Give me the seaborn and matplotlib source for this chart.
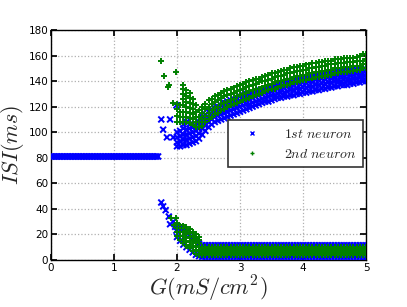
import numpy as np
import pandas as pd
import matplotlib
matplotlib.use("Agg")
import matplotlib.pyplot as plt
from matplotlib.lines import Line2D
import seaborn as sns

## data
# flat part, neuron 1 only (G sweep 0 .. 1.7)
g_flat = np.round(np.arange(0.0, 1.71, 0.025), 3)
isi_flat_value = 81.0

# sparse points right after the bifurcation
n1_sparse_g = [1.75, 1.78, 1.84, 1.89, 1.94, 1.99, 1.75, 1.78, 1.82, 1.87, 1.89, 1.94, 1.97, 1.99]
n1_sparse_isi = [110, 102, 96, 110, 96, 121, 45, 42, 39, 34, 28, 30, 26, 23]
n2_sparse_g = [1.75, 1.79, 1.85, 1.88, 1.94, 1.99, 2.09, 1.90, 1.99, 1.95]
n2_sparse_isi = [156, 144, 135, 137, 123, 147, 137, 33, 33, 27]

# transition region, several ISI values per G
g_trans = [2.00, 2.05, 2.10, 2.15, 2.20, 2.25, 2.30, 2.35]
n1_trans_upper = [[89, 92, 96, 100], [89, 93, 97, 101], [90, 94, 98, 103, 106],
                  [90, 94, 98, 102, 108], [91, 95, 99, 103, 106], [92, 96, 100, 104],
                  [93, 97, 101, 105], [95, 99, 103, 108]]
n2_trans_upper = [[108, 113, 118, 122], [108, 112, 116, 121],
                  [108, 112, 116, 121, 126, 130, 134], [108, 112, 116, 120, 124, 128, 133],
                  [107, 111, 115, 119, 123, 127, 131], [106, 110, 114, 118, 122, 126],
                  [104, 108, 112, 116, 121], [104, 108, 112, 117]]
n1_trans_lower = [[18, 27], [15, 25], [12, 24], [10, 22],
                  [8, 20], [6, 18], [4, 16], [3, 13]]
n2_trans_lower = [[19, 22, 25, 29], [16, 19, 22, 25, 27], [13, 16, 19, 22, 25, 27],
                  [11, 14, 17, 20, 23, 26], [9, 12, 15, 18, 21, 24], [7, 10, 13, 16, 19, 22],
                  [5, 8, 11, 14, 17, 20], [4, 7, 10, 13, 16, 18]]

# regular regime, G 2.40 .. 5.00
g_band = [2.40, 2.45, 2.50, 2.55, 2.60, 2.65, 2.70, 2.75, 2.80, 2.85, 2.90, 2.95,
          3.00, 3.05, 3.10, 3.15, 3.20, 3.25, 3.30, 3.35, 3.40, 3.45, 3.50, 3.55,
          3.60, 3.65, 3.70, 3.75, 3.80, 3.85, 3.90, 3.95, 4.00, 4.05, 4.10, 4.15,
          4.20, 4.25, 4.30, 4.35, 4.40, 4.45, 4.50, 4.55, 4.60, 4.65, 4.70, 4.75,
          4.80, 4.85, 4.90, 4.95, 5.00]
n1_band_upper = [
    [98, 103, 108, 112], [101, 105, 110, 114], [104, 108, 112, 116], [106, 110, 114, 118],
    [108, 112, 115, 119], [109, 113, 117, 120], [110, 114, 118, 121], [111, 115, 119, 123],
    [112, 116, 120, 124], [113, 117, 121, 125], [114, 118, 122, 126], [115, 119, 123, 127],
    [116, 120, 124, 128], [117, 121, 125, 129], [118, 122, 126, 130], [119, 122, 126, 130],
    [120, 123, 127, 131], [121, 124, 128, 132], [122, 125, 129, 133], [123, 126, 130, 133],
    [124, 127, 131, 134], [124, 128, 131, 135], [125, 129, 132, 135], [126, 129, 133, 136],
    [127, 130, 134, 137], [127, 131, 134, 138], [128, 131, 135, 138], [128, 132, 136, 139],
    [129, 133, 136, 140], [129, 133, 137, 141], [130, 134, 138, 142], [130, 134, 138, 142],
    [131, 135, 139, 143], [131, 135, 139, 143], [132, 136, 140, 143], [132, 136, 140, 144],
    [133, 137, 141, 144], [133, 137, 141, 145], [134, 138, 142, 145], [134, 138, 142, 146],
    [135, 139, 143, 146], [135, 139, 143, 146], [136, 140, 143, 147], [136, 140, 144, 147],
    [137, 140, 144, 147], [137, 141, 144, 148], [137, 141, 145, 148], [138, 141, 145, 148],
    [138, 142, 145, 148], [139, 142, 146, 149], [139, 143, 146, 149], [140, 143, 146, 149],
    [140, 143, 146, 149]]
n2_band_upper = [
    [105, 110, 115, 120], [108, 113, 118, 122], [110, 115, 120, 125], [112, 117, 122, 126],
    [114, 119, 124, 128], [115, 120, 125, 129], [117, 122, 127, 131], [118, 123, 128, 132],
    [120, 124, 129, 133], [121, 125, 130, 134], [122, 126, 131, 135], [123, 128, 132, 136],
    [124, 129, 133, 137], [125, 130, 134, 138], [126, 131, 135, 139], [127, 132, 136, 140],
    [128, 133, 137, 141], [129, 134, 138, 142], [130, 134, 139, 142], [131, 135, 140, 143],
    [132, 136, 140, 144], [133, 137, 141, 145], [134, 138, 142, 146], [134, 139, 143, 146],
    [135, 140, 144, 147], [136, 140, 144, 148], [137, 141, 145, 149], [137, 142, 146, 149],
    [138, 142, 146, 150], [139, 143, 147, 151], [139, 144, 148, 151], [140, 144, 148, 152],
    [141, 145, 149, 152], [141, 145, 149, 153], [142, 146, 150, 153], [142, 146, 150, 154],
    [143, 147, 151, 154], [143, 147, 151, 155], [144, 148, 152, 155], [144, 148, 152, 156],
    [145, 149, 153, 156], [145, 149, 153, 156], [146, 150, 153, 157], [146, 150, 154, 157],
    [147, 150, 154, 157], [147, 151, 154, 158], [147, 151, 155, 158], [148, 151, 155, 158],
    [148, 152, 155, 158], [149, 152, 156, 159], [149, 152, 156, 160], [150, 153, 156, 161],
    [150, 153, 157, 161]]
# the fast spikes stay flat over the whole regular regime (blue shows only at the edges)
n1_band_lower = [2.5, 11.5]
n2_band_lower = [4, 5.5, 7, 8.5, 10]

labels = [r"$1st\ neuron$", r"$2nd\ neuron$"]
colors = ["#0000ff", "#008000"]


def to_rows(gs, cols, name):
    rows = []
    for g, vals in zip(gs, cols):
        for v in vals:
            rows.append((g, v, name))
    return rows


rows = []
rows += [(g, isi_flat_value, labels[0]) for g in g_flat]
rows += list(zip(n1_sparse_g, n1_sparse_isi, [labels[0]] * len(n1_sparse_g)))
rows += to_rows(g_trans, n1_trans_upper, labels[0])
rows += to_rows(g_trans, n1_trans_lower, labels[0])
rows += to_rows(g_band, n1_band_upper, labels[0])
rows += to_rows(g_band, [n1_band_lower] * len(g_band), labels[0])
rows += list(zip(n2_sparse_g, n2_sparse_isi, [labels[1]] * len(n2_sparse_g)))
rows += to_rows(g_trans, n2_trans_upper, labels[1])
rows += to_rows(g_trans, n2_trans_lower, labels[1])
rows += to_rows(g_band, n2_band_upper, labels[1])
rows += to_rows(g_band, [n2_band_lower] * len(g_band), labels[1])
df = pd.DataFrame(rows, columns=["G", "ISI", "neuron"])

## plotting
sns.set_theme(style="whitegrid", rc={
    "axes.edgecolor": "black", "axes.linewidth": 1.0,
    "grid.color": "#b0b0b0", "grid.linestyle": ":", "grid.linewidth": 0.9,
    "xtick.direction": "in", "ytick.direction": "in",
    "xtick.top": True, "ytick.right": True,
    "xtick.bottom": True, "ytick.left": True,
    "xtick.major.size": 4, "ytick.major.size": 4,
    "xtick.color": "black", "ytick.color": "black",
    "mathtext.fontset": "cm",
})
plt.rcParams["font.family"] = ["DejaVu Sans"]

fig = plt.figure(figsize=(4.07, 3.07), dpi=100)
ax = fig.add_axes([0.1253, 0.1531, 0.7740, 0.7492])

sns.scatterplot(data=df, x="G", y="ISI", hue="neuron", style="neuron",
                markers={labels[0]: "x", labels[1]: "+"},
                palette=dict(zip(labels, colors)), s=18, linewidth=1.4,
                legend=False, ax=ax, zorder=3)

ax.set_xlim(0, 5)
ax.set_ylim(0, 180)
ax.set_xticks([0, 1, 2, 3, 4, 5])
ax.set_yticks(range(0, 181, 20))
ax.tick_params(labelsize=7.5, pad=2)
ax.set_xlabel(r"$G(mS/cm^2)$", fontsize=16, labelpad=1)
ax.set_ylabel(r"$ISI(ms)$", fontsize=16, labelpad=2)

handles = [Line2D([], [], ls="", marker="x", color=colors[0], ms=3.5, mew=1.0),
           Line2D([], [], ls="", marker="+", color=colors[1], ms=3.5, mew=1.0)]
leg = ax.legend(handles, labels, loc="center right", bbox_to_anchor=(0.99, 0.505),
                borderaxespad=0, fontsize=10, handlelength=2.6, handletextpad=1.0,
                borderpad=0.45, labelspacing=0.45, fancybox=False, framealpha=1)
leg.get_frame().set_edgecolor("#333333")
leg.get_frame().set_linewidth(1.2)
leg.set_zorder(5)

fig.savefig("out.png", dpi=100)
